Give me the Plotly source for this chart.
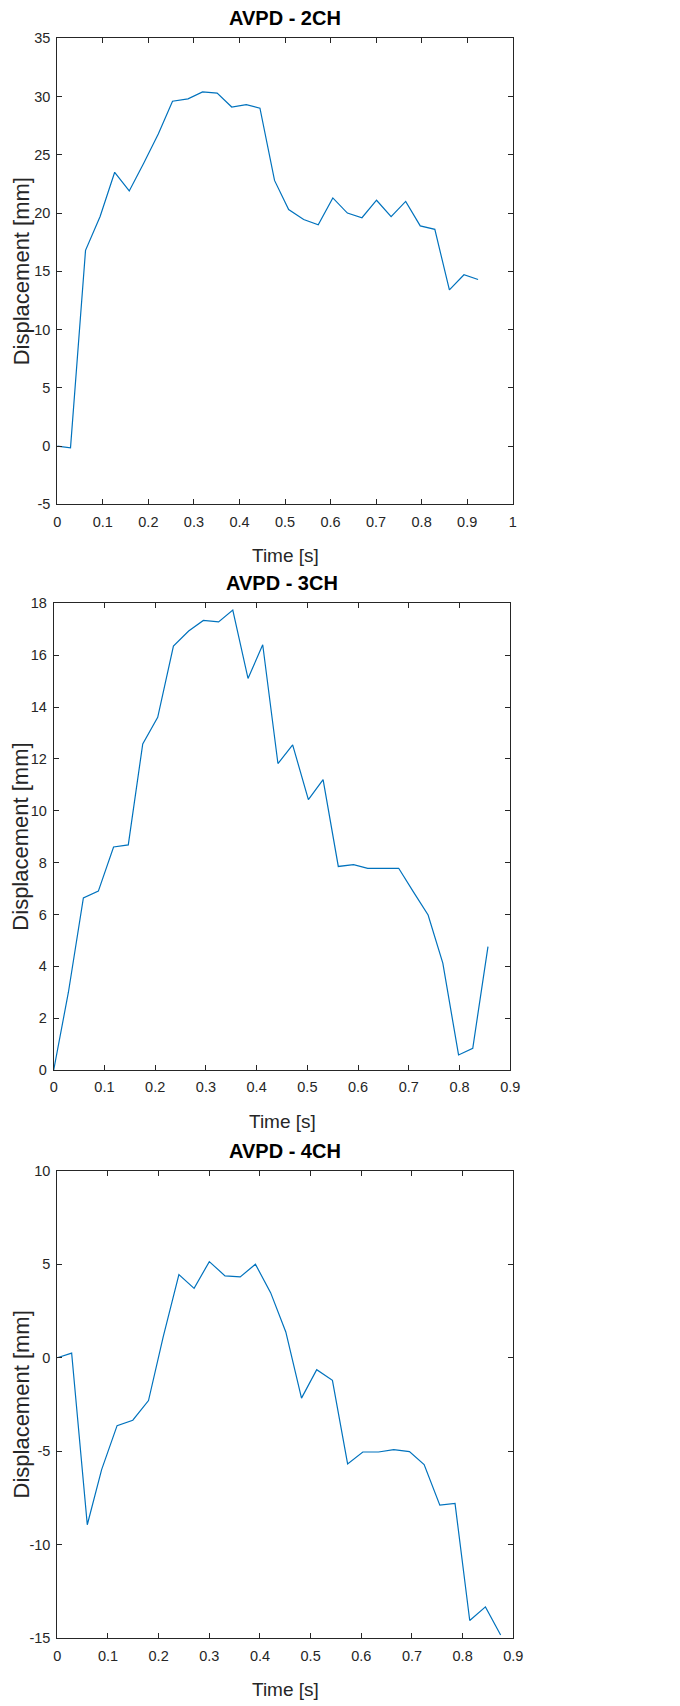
import plotly.graph_objects as go

# ---------------- data ----------------
t_2ch = [0.000, 0.029, 0.062, 0.094, 0.126, 0.158, 0.190, 0.222, 0.253, 0.287,
         0.319, 0.351, 0.383, 0.415, 0.445, 0.477, 0.508, 0.541, 0.573, 0.605,
         0.637, 0.669, 0.701, 0.733, 0.765, 0.797, 0.829, 0.861, 0.893, 0.924]
d_2ch = [0.0, -0.15, 16.8, 19.7, 23.5, 21.9, 24.3, 26.8, 29.6, 29.8,
         30.4, 30.3, 29.1, 29.3, 29.0, 22.8, 20.3, 19.45, 19.0, 21.3,
         20.0, 19.6, 21.1, 19.7, 21.0, 18.9, 18.6, 13.4, 14.7, 14.3]

t_3ch = [0.000, 0.029, 0.0585, 0.088, 0.118, 0.147, 0.1755, 0.205, 0.236, 0.266,
         0.295, 0.325, 0.353, 0.383, 0.412, 0.442, 0.471, 0.502, 0.531, 0.561,
         0.591, 0.619, 0.650, 0.680, 0.709, 0.738, 0.767, 0.798, 0.826, 0.856]
d_3ch = [0.0, 3.0, 6.64, 6.9, 8.6, 8.68, 12.58, 13.6, 16.35, 16.93,
         17.34, 17.28, 17.74, 15.1, 16.4, 11.82, 12.54, 10.43, 11.2, 7.85,
         7.92, 7.78, 7.78, 7.78, 6.87, 5.98, 4.12, 0.58, 0.84, 4.76]

t_4ch = [0.000, 0.0283, 0.0592, 0.0875, 0.118, 0.149, 0.180, 0.209, 0.240, 0.270,
         0.300, 0.331, 0.361, 0.391, 0.421, 0.451, 0.482, 0.512, 0.543, 0.573,
         0.603, 0.634, 0.664, 0.695, 0.724, 0.755, 0.785, 0.814, 0.845, 0.875]
d_4ch = [0.0, 0.25, -8.93, -5.98, -3.63, -3.34, -2.29, 1.11, 4.45, 3.71,
         5.14, 4.38, 4.32, 5.0, 3.48, 1.38, -2.16, -0.64, -1.21, -5.68,
         -5.04, -5.04, -4.91, -5.02, -5.71, -7.88, -7.79, -14.05, -13.32, -14.82]

titles = ["AVPD - 2CH", "AVPD - 3CH", "AVPD - 4CH"]
x_label = "Time [s]"
y_label = "Displacement [mm]"

x_ticks_1 = [0, 0.1, 0.2, 0.3, 0.4, 0.5, 0.6, 0.7, 0.8, 0.9, 1]
x_text_1 = ["0", "0.1", "0.2", "0.3", "0.4", "0.5", "0.6", "0.7", "0.8", "0.9", "1"]
x_ticks_23 = [0, 0.1, 0.2, 0.3, 0.4, 0.5, 0.6, 0.7, 0.8, 0.9]
x_text_23 = ["0", "0.1", "0.2", "0.3", "0.4", "0.5", "0.6", "0.7", "0.8", "0.9"]
y_ticks_1 = [-5, 0, 5, 10, 15, 20, 25, 30, 35]
y_text_1 = ["-5", "0", "5", "10", "15", "20", "25", "30", "35"]
y_ticks_2 = [0, 2, 4, 6, 8, 10, 12, 14, 16, 18]
y_text_2 = ["0", "2", "4", "6", "8", "10", "12", "14", "16", "18"]
y_ticks_3 = [-15, -10, -5, 0, 5, 10]
y_text_3 = ["-15", "-10", "-5", "0", "5", "10"]

# ---------------- layout geometry (pixels) ----------------
W, H = 680, 1706
panels = [
    # (left, right, top, bottom) of plot area in px
    (57.3, 512.7, 38.3, 504.3),
    (53.7, 510.3, 603.3, 1070.0),
    (57.3, 513.3, 1170.7, 1638.3),
]
xranges = [[0, 1], [0, 0.9], [0, 0.9]]
yranges = [[-5, 35], [0, 18], [-15, 10]]
xticks = [(x_ticks_1, x_text_1), (x_ticks_23, x_text_23), (x_ticks_23, x_text_23)]
yticks = [(y_ticks_1, y_text_1), (y_ticks_2, y_text_2), (y_ticks_3, y_text_3)]
series = [(t_2ch, d_2ch), (t_3ch, d_3ch), (t_4ch, d_4ch)]

AX = "#262626"
FONT = "Liberation Sans, Arial, Helvetica, sans-serif"
LINE = "#0072BD"

fig = go.Figure()
layout = dict(
    width=W, height=H, margin=dict(l=0, r=0, t=0, b=0),
    paper_bgcolor="white", plot_bgcolor="white", showlegend=False,
    template="none", font=dict(family=FONT, color=AX),
)
annotations = []

for i, ((l, r, t, b), (xs, ys)) in enumerate(zip(panels, series)):
    n = "" if i == 0 else str(i + 1)
    xa, ya = "x" + n, "y" + n
    fig.add_trace(go.Scatter(x=xs, y=ys, mode="lines", xaxis=xa, yaxis=ya,
                             line=dict(color=LINE, width=1.2), hoverinfo="skip"))
    common = dict(showgrid=False, zeroline=False, showline=True, linecolor=AX,
                  linewidth=1, mirror="allticks", ticks="inside", ticklen=5,
                  tickwidth=1, tickcolor=AX, automargin=False,
                  tickfont=dict(family=FONT, size=14.5, color=AX))
    layout["xaxis" + n] = dict(common, domain=[l / W, r / W], anchor=ya,
                               range=xranges[i], tickmode="array",
                               tickvals=xticks[i][0], ticktext=xticks[i][1],
                               ticklabelstandoff=4)
    layout["yaxis" + n] = dict(common, domain=[1 - b / H, 1 - t / H], anchor=xa,
                               range=yranges[i], tickmode="array",
                               tickvals=yticks[i][0], ticktext=yticks[i][1],
                               ticklabelstandoff=3)
    cx = (l + r) / 2 / W
    annotations.append(dict(text="<b>" + titles[i] + "</b>", xref="paper", yref="paper",
                            x=cx, y=1 - (t - 20) / H, xanchor="center", yanchor="middle",
                            showarrow=False, font=dict(family=FONT, size=20, color="black")))
    annotations.append(dict(text=x_label, xref="paper", yref="paper",
                            x=cx, y=1 - (b + 51) / H, xanchor="center", yanchor="middle",
                            showarrow=False, font=dict(family=FONT, size=19, color=AX)))
    annotations.append(dict(text=y_label, xref="paper", yref="paper",
                            x=21 / W, y=1 - (t + b) / 2 / H, xanchor="center", yanchor="middle",
                            textangle=-90, showarrow=False,
                            font=dict(family=FONT, size=22, color=AX)))

layout["annotations"] = annotations
fig.update_layout(**layout)
fig.write_html("out.html", config={"displayModeBar": False},
               post_script="document.body.style.margin='0';document.body.style.overflow='hidden';")
